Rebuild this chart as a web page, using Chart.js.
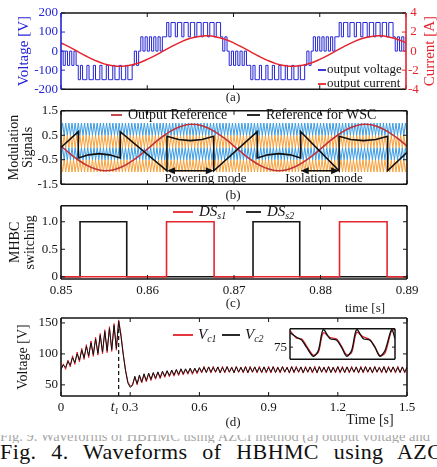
<!DOCTYPE html>
<html>
<head>
<meta charset="utf-8">
<script src="https://cdn.jsdelivr.net/npm/chart.js@4.4.1/dist/chart.umd.min.js"></script>
<style>
  body { margin: 0; width: 437px; height: 467px; overflow: hidden; position: relative; background: #fff;
         font-family: "Liberation Serif", "Times New Roman", serif; color: #1a1a1a; }
  canvas { position: absolute; }
  .lbl { position: absolute; font-size: 13px; line-height: 14px; white-space: nowrap; transform: translateX(-50%); }
  .faint { position: absolute; left: 0; top: 435px; width: 437px; height: 8px; overflow: hidden; color: #a8a8a8; font-size: 14.5px; }
  .faint span { display: block; margin-top: -7px; white-space: nowrap; }
  .caption { position: absolute; left: 0; top: 441px; width: 450px; font-size: 22px; line-height: 22px;
             letter-spacing: 0.4px; text-align: justify; text-align-last: justify; color: #111; }
</style>
</head>
<body>
<canvas id="chartA" width="437" height="100" style="left:0;top:0"></canvas>
<canvas id="chartB" width="437" height="95" style="left:0;top:100px"></canvas>
<canvas id="chartC" width="437" height="105" style="left:0;top:195px"></canvas>
<canvas id="chartD" width="437" height="110" style="left:0;top:305px"></canvas>
<canvas id="chartInset" width="140" height="52" style="left:260px;top:318px"></canvas>

<div class="lbl" style="left:233px;top:90px">(a)</div>
<div class="lbl" style="left:233px;top:188px">(b)</div>
<div class="lbl" style="left:233px;top:296px">(c)</div>
<div class="lbl" style="left:365px;top:301px">time [s]</div>
<div class="lbl" style="left:233px;top:415px">(d)</div>
<div class="lbl" style="left:370px;top:413px;font-size:14px">Time [s]</div>
<div class="faint"><span>Fig. 9. Waveforms of HBHMC using AZCI method (a) output voltage and</span></div>
<div class="caption">Fig. 4. Waveforms of HBHMC using AZCI</div>

<script>
// (a) output voltage [V] sampled every 0.25 ms, output current [A] every 1 ms
const voltageStepMs = 0.25;
const outputVoltage = [
  0,-75,0,-75,0,-75,0,-75,
  -150,-75,-150,-150,-75,-150,-150,-75,-150,-150,-75,-150,-150,-75,-150,-150,-75,-150,-150,-75,-150,-150,-75,-150,-150,-75,
  0,-75,0,
  75,0,75,0,75,0,75,0,75,0,75,75,
  150,75,150,150,75,150,150,75,150,150,75,150,150,75,150,150,75,150,150,75,150,150,75,150,150,
  75,0,75,
  0,-75,0,
  -75,0,-75,0,-75,0,-75,-75,
  -150,-75,-150,-150,-75,-150,-150,-75,-150,-150,-75,-150,-150,-75,-150,-150,-75,-150,-150,-75,-150,-150,-75,-150,-150,-75,
  0,-75,0,
  75,0,75,0,75,0,75,0,75,0,75,75,
  150,75,150,150,75,150,150,75,150,150,75,150,150,75,150,150,75,150,150,75,150,150,75,150,150,
  75,0,75,
  0,75,0,
  75
];
const currentStepMs = 1;
const outputCurrent = [
  0.87,0.42,-0.08,-0.57,-1.00,-1.34,-1.54,-1.60,-1.49,-1.25,-0.87,-0.42,0.08,0.57,1.00,1.34,1.54,1.60,1.49,1.25,
  0.87,0.42,-0.08,-0.57,-1.00,-1.34,-1.54,-1.60,-1.49,-1.25,-0.87,-0.42,0.08,0.57,1.00,1.34,1.54,1.60,1.49,1.25,
  0.87
];

// (b) modulation signals, time in ms
const refStepMs = 1;
const outputReference = [
  0.06,-0.24,-0.51,-0.73,-0.88,-0.95,-0.92,-0.80,-0.60,-0.35,-0.06,0.24,0.51,0.73,0.88,0.95,0.92,0.80,0.60,0.35,
  0.06,-0.24,-0.51,-0.73,-0.88,-0.95,-0.92,-0.80,-0.60,-0.35,-0.06,0.24,0.51,0.73,0.88,0.95,0.92,0.80,0.60,0.35,
  0.06
];
const wscTime  = [0, 2.0, 2.0, 3.2, 4.4, 5.6, 6.84, 6.84, 12.25, 12.25, 13.6, 14.95, 16.3, 17.66, 17.66,
                  22.69, 22.69, 23.9, 25.2, 26.5, 27.71, 27.71, 32.15, 32.15, 33.5, 34.95, 36.4, 37.76, 37.76, 40];
const wscValue = [0, 0.65, -0.43, -0.3, -0.25, -0.3, -0.43, 0.65, -0.95, 0.46, 0.33, 0.28, 0.33, 0.46, -0.95,
                  0.65, -0.43, -0.3, -0.25, -0.3, -0.43, 0.65, -0.95, 0.46, 0.33, 0.28, 0.33, 0.46, -0.95, -0.2];
const carrierBlueHigh = [
  .5,1,.5,1,.5,1,.5,1,.5,1,.5,1,.5,1,.5,1,.5,1,.5,1,
  .5,1,.5,1,.5,1,.5,1,.5,1,.5,1,.5,1,.5,1,.5,1,.5,1,
  .5,1,.5,1,.5,1,.5,1,.5,1,.5,1,.5,1,.5,1,.5,1,.5,1,
  .5,1,.5,1,.5,1,.5,1,.5,1,.5,1,.5,1,.5,1,.5,1,.5,1,
  .5,1,.5,1,.5,1,.5,1,.5,1,.5,1,.5,1,.5,1,.5,1,.5,1,
  .5,1,.5,1,.5,1,.5,1,.5,1,.5,1,.5,1,.5,1,.5,1,.5,1,
  .5,1,.5,1,.5,1,.5,1,.5,1,.5,1,.5,1,.5,1,.5,1,.5,1,
  .5,1,.5,1,.5,1,.5,1,.5,1,.5,1,.5,1,.5,1,.5,1,.5,1,
  .5,1,.5,1,.5,1,.5,1,.5,1,.5,1,.5,1,.5,1,.5,1,.5,1,
  .5,1,.5,1,.5,1,.5,1,.5,1,.5,1,.5,1,.5,1,.5,1,.5,1,
  .5,1,.5,1,.5,1,.5,1,.5,1,.5,1,.5,1,.5,1,.5,1,.5,1,
  .5
];
const carrierOrangeHigh = [
  .5,0,.5,0,.5,0,.5,0,.5,0,.5,0,.5,0,.5,0,.5,0,.5,0,
  .5,0,.5,0,.5,0,.5,0,.5,0,.5,0,.5,0,.5,0,.5,0,.5,0,
  .5,0,.5,0,.5,0,.5,0,.5,0,.5,0,.5,0,.5,0,.5,0,.5,0,
  .5,0,.5,0,.5,0,.5,0,.5,0,.5,0,.5,0,.5,0,.5,0,.5,0,
  .5,0,.5,0,.5,0,.5,0,.5,0,.5,0,.5,0,.5,0,.5,0,.5,0,
  .5,0,.5,0,.5,0,.5,0,.5,0,.5,0,.5,0,.5,0,.5,0,.5,0,
  .5,0,.5,0,.5,0,.5,0,.5,0,.5,0,.5,0,.5,0,.5,0,.5,0,
  .5,0,.5,0,.5,0,.5,0,.5,0,.5,0,.5,0,.5,0,.5,0,.5,0,
  .5,0,.5,0,.5,0,.5,0,.5,0,.5,0,.5,0,.5,0,.5,0,.5,0,
  .5,0,.5,0,.5,0,.5,0,.5,0,.5,0,.5,0,.5,0,.5,0,.5,0,
  .5,0,.5,0,.5,0,.5,0,.5,0,.5,0,.5,0,.5,0,.5,0,.5,0,
  .5
];
const carrierBlueLow = [
  -.5,0,-.5,0,-.5,0,-.5,0,-.5,0,-.5,0,-.5,0,-.5,0,-.5,0,-.5,0,
  -.5,0,-.5,0,-.5,0,-.5,0,-.5,0,-.5,0,-.5,0,-.5,0,-.5,0,-.5,0,
  -.5,0,-.5,0,-.5,0,-.5,0,-.5,0,-.5,0,-.5,0,-.5,0,-.5,0,-.5,0,
  -.5,0,-.5,0,-.5,0,-.5,0,-.5,0,-.5,0,-.5,0,-.5,0,-.5,0,-.5,0,
  -.5,0,-.5,0,-.5,0,-.5,0,-.5,0,-.5,0,-.5,0,-.5,0,-.5,0,-.5,0,
  -.5,0,-.5,0,-.5,0,-.5,0,-.5,0,-.5,0,-.5,0,-.5,0,-.5,0,-.5,0,
  -.5,0,-.5,0,-.5,0,-.5,0,-.5,0,-.5,0,-.5,0,-.5,0,-.5,0,-.5,0,
  -.5,0,-.5,0,-.5,0,-.5,0,-.5,0,-.5,0,-.5,0,-.5,0,-.5,0,-.5,0,
  -.5,0,-.5,0,-.5,0,-.5,0,-.5,0,-.5,0,-.5,0,-.5,0,-.5,0,-.5,0,
  -.5,0,-.5,0,-.5,0,-.5,0,-.5,0,-.5,0,-.5,0,-.5,0,-.5,0,-.5,0,
  -.5,0,-.5,0,-.5,0,-.5,0,-.5,0,-.5,0,-.5,0,-.5,0,-.5,0,-.5,0,
  -.5
];
const carrierOrangeLow = [
  -.5,-1,-.5,-1,-.5,-1,-.5,-1,-.5,-1,-.5,-1,-.5,-1,-.5,-1,-.5,-1,-.5,-1,
  -.5,-1,-.5,-1,-.5,-1,-.5,-1,-.5,-1,-.5,-1,-.5,-1,-.5,-1,-.5,-1,-.5,-1,
  -.5,-1,-.5,-1,-.5,-1,-.5,-1,-.5,-1,-.5,-1,-.5,-1,-.5,-1,-.5,-1,-.5,-1,
  -.5,-1,-.5,-1,-.5,-1,-.5,-1,-.5,-1,-.5,-1,-.5,-1,-.5,-1,-.5,-1,-.5,-1,
  -.5,-1,-.5,-1,-.5,-1,-.5,-1,-.5,-1,-.5,-1,-.5,-1,-.5,-1,-.5,-1,-.5,-1,
  -.5,-1,-.5,-1,-.5,-1,-.5,-1,-.5,-1,-.5,-1,-.5,-1,-.5,-1,-.5,-1,-.5,-1,
  -.5,-1,-.5,-1,-.5,-1,-.5,-1,-.5,-1,-.5,-1,-.5,-1,-.5,-1,-.5,-1,-.5,-1,
  -.5,-1,-.5,-1,-.5,-1,-.5,-1,-.5,-1,-.5,-1,-.5,-1,-.5,-1,-.5,-1,-.5,-1,
  -.5,-1,-.5,-1,-.5,-1,-.5,-1,-.5,-1,-.5,-1,-.5,-1,-.5,-1,-.5,-1,-.5,-1,
  -.5,-1,-.5,-1,-.5,-1,-.5,-1,-.5,-1,-.5,-1,-.5,-1,-.5,-1,-.5,-1,-.5,-1,
  -.5,-1,-.5,-1,-.5,-1,-.5,-1,-.5,-1,-.5,-1,-.5,-1,-.5,-1,-.5,-1,-.5,-1,
  -.5
];
const modeNames = ['Powering mode', 'Isolation mode'];
const modeSpans = [[12.25, 17.66], [27.71, 32.15]];
const modeLabelAt = [16.7, 30.4];

// (c) MHBC switching signals, time in s
const ds1Time  = [0.85, 0.8622, 0.8622, 0.8677, 0.8677, 0.8822, 0.8822, 0.8877, 0.8877, 0.89];
const ds1Value = [0, 0, 1, 1, 0, 0, 1, 1, 0, 0];
const ds2Time  = [0.85, 0.8522, 0.8522, 0.8576, 0.8576, 0.8722, 0.8722, 0.8776, 0.8776, 0.89];
const ds2Value = [0, 0, 1, 1, 0, 0, 1, 1, 0, 0];

// (d) capacitor voltages [V] every 0.01 s
const vcStepS = 0.01;
const vc1 = [
  75,84,75,90,79,97,83,103,87,109,91,115,94,121,96,127,98,133,100,139,102,144,104,149,106,155,
  132,100,74,55,48,50,
  62,50,64,53,66,55,68,57,69,59,70,60,71,62,72,63,73,64,74,65,75,66,75,67,76,67,76,68,77,
  69,80,70,79,69,80,70,79,69,80,69,80,70,79,69,80,70,79,69,80,69,80,70,79,69,80,70,79,69,80,
  69,80,70,79,69,80,70,79,69,80,69,80,70,79,69,80,70,79,69,80,69,80,70,79,69,80,70,79,69,80,
  69,80,70,79,69,80,70,79,69,80,69,80,70,79,69,80,70,79,69,80,69,80,70,79,69,80,70,79,69,80
];
const vc2 = [
  75,82,78,88,82,94,86,100,90,106,94,112,97,118,99,124,101,130,103,136,105,141,107,146,109,153,
  128,98,72,53,46,49,
  64,52,66,55,68,57,69,59,70,61,71,62,72,64,73,65,74,66,75,67,76,68,76,69,77,69,77,70,78,
  71,78,70,79,71,78,71,79,70,78,71,79,71,78,70,79,71,78,71,79,70,78,71,79,71,78,70,79,71,78,
  71,79,70,78,71,79,71,78,70,79,71,78,71,79,70,78,71,79,71,78,70,79,71,78,71,79,70,78,71,79,
  71,78,70,79,71,78,71,79,70,78,71,79,71,78,70,79,71,78,71,79,70,78,71,79,71,78,70,79,71,78
];
const switchTime = 0.25;
const switchLineTop = 146;

// (d) inset: steady-state ripple, time in ms
const insetTime = [0, 3.8, 6.7, 9.5, 13.3, 16.2, 19.0, 22.9, 26.7, 29.5, 32.4, 35.2, 38.1, 41.9, 45.7, 48.6, 51.4, 54.3, 58.1, 60];
const insetVc1  = [79.5, 77.4, 77.2, 75.3, 72.8, 73.6, 78.9, 77.6, 77.2, 75.2, 72.9, 73.5, 79.0, 77.8, 77.0, 75.0, 72.7, 73.4, 79.6, 79.8];
const insetVc2  = [78.9, 77.7, 76.9, 74.9, 72.5, 74.1, 79.8, 77.3, 76.9, 74.9, 72.5, 74.1, 79.8, 77.3, 76.9, 74.9, 72.5, 74.1, 79.8, 77.3];

const SERIF = '"Liberation Serif", "Times New Roman", serif';
const BLUE = '#2424d6', RED = '#e3262d', INK = '#141414';
Chart.defaults.font.family = SERIF;
Chart.defaults.font.size = 13;
Chart.defaults.color = INK;
Chart.defaults.animation = false;
Chart.defaults.responsive = false;
Chart.defaults.plugins.legend.display = false;
Chart.defaults.plugins.tooltip.enabled = false;
Chart.defaults.elements.point.radius = 0;

const even = (step, ys) => ys.map((y, i) => ({ x: i * step, y }));
const pairs = (xs, ys) => ys.map((y, i) => ({ x: xs[i], y }));
const spread = (span, ys) => ys.map((y, i) => ({ x: i * span / (ys.length - 1), y }));

// box round the plot with inward tick marks
Chart.register({
  id: 'frame',
  beforeDatasetsDraw(chart, args, o) {
    if (!o.fill) return;
    const a = chart.chartArea, c = chart.ctx;
    c.save(); c.fillStyle = o.fill; c.fillRect(a.left, a.top, a.right - a.left, a.bottom - a.top); c.restore();
  },
  afterDatasetsDraw(chart, args, o) {
    const { ctx: c, chartArea: a, scales } = chart;
    const len = o.tick || 4;
    const seg = (x1, y1, x2, y2, col, w) => {
      c.beginPath(); c.strokeStyle = col; c.lineWidth = w; c.moveTo(x1, y1); c.lineTo(x2, y2); c.stroke();
    };
    c.save();
    const x = scales.x;
    if (x && x.options.display) {
      x.ticks.forEach(t => {
        const p = x.getPixelForValue(t.value);
        seg(p, a.top, p, a.top + len, INK, 1);
        seg(p, a.bottom, p, a.bottom - len, INK, 1);
      });
    }
    const yl = scales.y, yr = scales[o.rightScale] || yl;
    const lc = o.left || INK, rc = o.right || INK;
    yl.ticks.forEach(t => { const p = yl.getPixelForValue(t.value); seg(a.left, p, a.left + len, p, lc, 1); });
    yr.ticks.forEach(t => { const p = yr.getPixelForValue(t.value); seg(a.right, p, a.right - len, p, rc, 1); });
    const w = o.width || 1.6;
    seg(a.left, a.top, a.right, a.top, INK, w);
    seg(a.left, a.bottom, a.right, a.bottom, INK, w);
    seg(a.left, a.top, a.left, a.bottom, lc, w);
    seg(a.right, a.top, a.right, a.bottom, rc, w);
    c.restore();
  }
});

// legend entries placed inside the plot
Chart.register({
  id: 'key',
  afterDatasetsDraw(chart, args, o) {
    if (!o.items) return;
    const c = chart.ctx;
    const style = o.italic ? 'italic ' : '';
    const size = o.size || 13;
    c.save();
    o.items.forEach(it => {
      const ds = chart.data.datasets[it.dataset];
      c.strokeStyle = ds.borderColor; c.lineWidth = 1.8;
      c.beginPath(); c.moveTo(it.x, it.y); c.lineTo(it.x + it.len, it.y); c.stroke();
      c.font = `${style}${size}px ${SERIF}`;
      c.fillStyle = INK; c.textBaseline = 'middle'; c.textAlign = 'left';
      const tx = it.x + it.len + (o.gap ?? 3);
      c.fillText(ds.label, tx, it.y);
      if (ds.sub) {
        const w = c.measureText(ds.label).width;
        c.font = `${style}${Math.round(size * 0.68)}px ${SERIF}`;
        c.fillText(ds.sub, tx + w, it.y + 4);
      }
    });
    c.restore();
  }
});

// right-hand axis title reading bottom to top
Chart.register({
  id: 'sideText',
  afterDraw(chart, args, o) {
    if (!o.text) return;
    const c = chart.ctx, a = chart.chartArea;
    c.save();
    c.translate(o.x, (a.top + a.bottom) / 2);
    c.rotate(-Math.PI / 2);
    c.font = `${o.size || 14}px ${SERIF}`;
    c.fillStyle = o.color || INK; c.textAlign = 'center'; c.textBaseline = 'middle';
    c.fillText(o.text, 0, 0);
    c.restore();
  }
});

const hidden = { display: false, drawTicks: false };
const noBorder = { display: false };

// (a)
new Chart(document.getElementById('chartA'), {
  type: 'line',
  data: {
    datasets: [
      { label: 'output current', data: even(currentStepMs, outputCurrent), yAxisID: 'y1',
        borderColor: RED, borderWidth: 1.5, tension: 0.4 },
      { label: 'output voltage', data: even(voltageStepMs, outputVoltage), yAxisID: 'y',
        borderColor: BLUE, borderWidth: 1, stepped: true }
    ]
  },
  options: {
    layout: { padding: { top: 13, left: 0, right: 0, bottom: 0 } },
    scales: {
      x: { type: 'linear', min: 0, max: 40, ticks: { display: false, stepSize: 10 },
           grid: hidden, border: noBorder, afterFit: s => { s.height = 10; } },
      y: { min: -200, max: 200, ticks: { stepSize: 100, color: BLUE, padding: 3, includeBounds: false },
           grid: hidden, border: noBorder,
           title: { display: true, text: 'Voltage [V]', color: BLUE, font: { size: 15, lineHeight: 1 }, padding: { top: 17, bottom: 0 } },
           afterFit: s => { s.width = 61; } },
      y1: { position: 'right', min: -4, max: 4, ticks: { stepSize: 2, color: RED, padding: 2, crossAlign: 'center', includeBounds: false },
            grid: hidden, border: noBorder, afterFit: s => { s.width = 31; } }
    },
    plugins: {
      frame: { left: BLUE, right: RED, rightScale: 'y1' },
      key: { size: 13, gap: 1, items: [ { dataset: 1, x: 318, y: 70, len: 8 }, { dataset: 0, x: 318, y: 84, len: 8 } ] },
      sideText: { text: 'Current [A]', x: 430, color: RED, size: 15 }
    }
  }
});

// (b)
new Chart(document.getElementById('chartB'), {
  type: 'line',
  data: {
    datasets: [
      { label: 'Reference for WSC', data: pairs(wscTime, wscValue), borderColor: '#111', borderWidth: 1.6, tension: 0 },
      { label: 'Output Reference', data: even(refStepMs, outputReference), borderColor: '#c2323a', borderWidth: 1.6, tension: 0.4 },
      { label: 'carrier 1', data: spread(40, carrierBlueHigh), borderColor: '#3c9ce2', borderWidth: 1 },
      { label: 'carrier 2', data: spread(40, carrierOrangeHigh), borderColor: '#f6a03a', borderWidth: 1 },
      { label: 'carrier 3', data: spread(40, carrierBlueLow), borderColor: '#3c9ce2', borderWidth: 1 },
      { label: 'carrier 4', data: spread(40, carrierOrangeLow), borderColor: '#f6a03a', borderWidth: 1 }
    ]
  },
  options: {
    layout: { padding: { top: 8, left: 0, right: 30, bottom: 0 } },
    scales: {
      x: { type: 'linear', min: 0, max: 40, ticks: { display: false, stepSize: 10 },
           grid: hidden, border: noBorder, afterFit: s => { s.height = 9; } },
      y: { min: -1.5, max: 1.5, ticks: { stepSize: 0.5, padding: 3, includeBounds: false },
           grid: hidden, border: noBorder,
           title: { display: true, text: ['Modulation', 'Signals'], font: { size: 14, lineHeight: 1 }, padding: { top: 7, bottom: 0 } },
           afterFit: s => { s.width = 61; } }
    },
    plugins: {
      key: { size: 14, gap: 6, items: [ { dataset: 1, x: 111, y: 15, len: 11 }, { dataset: 0, x: 247, y: 15, len: 13 } ] }
    }
  },
  plugins: [{
    id: 'modes',
    afterDatasetsDraw(chart) {
      const { ctx: c, scales: { x, y } } = chart;
      c.save();
      c.strokeStyle = '#111'; c.fillStyle = '#111'; c.lineWidth = 1.3;
      modeSpans.forEach((span, k) => {
        const x1 = x.getPixelForValue(span[0]), x2 = x.getPixelForValue(span[1]);
        const py = y.getPixelForValue(-0.95);
        c.beginPath(); c.moveTo(x1 + 3, py); c.lineTo(x2 - 3, py); c.stroke();
        [[x1, 1], [x2, -1]].forEach(([hx, d]) => {
          c.beginPath(); c.moveTo(hx, py); c.lineTo(hx + 8 * d, py - 3.5); c.lineTo(hx + 8 * d, py + 3.5); c.closePath(); c.fill();
        });
        c.font = `13px ${SERIF}`; c.textAlign = 'center'; c.textBaseline = 'middle';
        c.fillText(modeNames[k], x.getPixelForValue(modeLabelAt[k]), y.getPixelForValue(-1.27));
      });
      c.restore();
    }
  }]
});

// (c)
new Chart(document.getElementById('chartC'), {
  type: 'line',
  data: {
    datasets: [
      { label: 'DS', sub: 's1', data: pairs(ds1Time, ds1Value), borderColor: '#e8242c', borderWidth: 1.6 },
      { label: 'DS', sub: 's2', data: pairs(ds2Time, ds2Value), borderColor: '#151515', borderWidth: 1.6 }
    ]
  },
  options: {
    layout: { padding: { top: 10, left: 0, right: 30, bottom: 0 } },
    scales: {
      x: { type: 'linear', min: 0.85, max: 0.89, ticks: { stepSize: 0.01, padding: 4, includeBounds: false },
           grid: hidden, border: noBorder, afterFit: s => { s.height = 21; } },
      y: { min: -0.04, max: 1.29, ticks: { stepSize: 0.5, padding: 3, includeBounds: false },
           grid: hidden, border: noBorder,
           title: { display: true, text: ['MHBC', 'switching'], font: { size: 14, lineHeight: 1.05 }, padding: { top: 8, bottom: 0 } },
           afterFit: s => { s.width = 61; } }
    },
    plugins: {
      key: { size: 15, gap: 6, italic: true, items: [ { dataset: 0, x: 173, y: 17, len: 20 }, { dataset: 1, x: 246, y: 17, len: 15 } ] }
    }
  }
});

// (d)
new Chart(document.getElementById('chartD'), {
  type: 'line',
  data: {
    datasets: [
      { label: 'V', sub: 'c2', data: even(vcStepS, vc2), borderColor: '#111', borderWidth: 1 },
      { label: 'V', sub: 'c1', data: even(vcStepS, vc1), borderColor: '#e0202a', borderWidth: 1 }
    ]
  },
  options: {
    layout: { padding: { top: 13, left: 0, right: 30, bottom: 0 } },
    scales: {
      x: { type: 'linear', min: 0, max: 1.5, ticks: { stepSize: 0.3, padding: 4, includeBounds: false },
           grid: hidden, border: noBorder, afterFit: s => { s.height = 19; } },
      y: { min: 32, max: 158, ticks: { stepSize: 50, padding: 3, includeBounds: false },
           grid: hidden, border: noBorder,
           title: { display: true, text: 'Voltage [V]', font: { size: 14, lineHeight: 1 }, padding: { top: 16, bottom: 0 } },
           afterFit: s => { s.width = 61; } }
    },
    plugins: {
      key: { size: 15, gap: 5, italic: true, items: [ { dataset: 1, x: 173, y: 30, len: 20 }, { dataset: 0, x: 222, y: 30, len: 18 } ] }
    }
  },
  plugins: [{
    id: 'switchMark',
    afterDatasetsDraw(chart) {
      const { ctx: c, chartArea: a, scales: { x, y } } = chart;
      const px = x.getPixelForValue(switchTime);
      c.save();
      c.setLineDash([4, 3]); c.strokeStyle = '#111'; c.lineWidth = 1.2;
      c.beginPath(); c.moveTo(px, a.bottom); c.lineTo(px, y.getPixelForValue(switchLineTop)); c.stroke();
      c.setLineDash([]);
      c.fillStyle = INK; c.textBaseline = 'top'; c.textAlign = 'right';
      c.font = `italic 14px ${SERIF}`; c.fillText('t', px - 4, a.bottom + 4);
      c.font = `italic 9px ${SERIF}`; c.fillText('1', px, a.bottom + 11);
      c.restore();
    }
  }]
});

// (d) inset
new Chart(document.getElementById('chartInset'), {
  type: 'line',
  data: {
    datasets: [
      { label: 'V c2', data: pairs(insetTime, insetVc2), borderColor: '#111', borderWidth: 1.3, tension: 0.3 },
      { label: 'V c1', data: pairs(insetTime, insetVc1), borderColor: '#e0202a', borderWidth: 1.3, tension: 0.3 }
    ]
  },
  options: {
    layout: { padding: { top: 9, left: 0, right: 5, bottom: 8 } },
    scales: {
      x: { type: 'linear', display: false, min: 0, max: 60 },
      y: { min: 71.7, max: 80, ticks: { padding: 3 }, grid: hidden, border: noBorder,
           afterBuildTicks: s => { s.ticks = [{ value: 75 }]; },
           afterFit: s => { s.width = 30; } }
    },
    plugins: { frame: { fill: '#fff', tick: 3, width: 1.5 } }
  }
});
</script>
</body>
</html>
